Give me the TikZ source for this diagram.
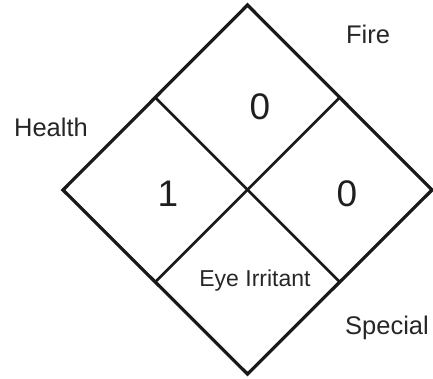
\documentclass[tikz,border=0pt]{standalone}
\usepackage{fontspec}
\setmainfont{Liberation Sans}
\usetikzlibrary{calc}
\begin{document}
\begin{tikzpicture}[x=1pt,y=-1pt,
  edge/.style={line width=3.2pt,line join=miter,color=black!90},
  inner/.style={line width=2.8pt,color=black!90},
  digit/.style={font=\fontsize{37}{40}\selectfont,text=black!88,inner sep=0pt},
  lbl/.style={font=\fontsize{25.5}{28}\selectfont,text=black!85,inner sep=0pt,anchor=base},
  small/.style={font=\fontsize{23}{26}\selectfont,text=black!85,inner sep=0pt}]
\useasboundingbox (0,0) rectangle (433,379);
\coordinate (T) at (247.5,5);
\coordinate (L) at (63,190);
\coordinate (R) at (432,190);
\coordinate (B) at (247.5,374);
\coordinate (TL) at ($(T)!0.5!(L)$);
\coordinate (TR) at ($(T)!0.5!(R)$);
\coordinate (BL) at ($(B)!0.5!(L)$);
\coordinate (BR) at ($(B)!0.5!(R)$);
\draw[edge] (T) -- (R) -- (B) -- (L) -- cycle;
\draw[inner] (TL) -- (BR);
\draw[inner] (TR) -- (BL);
\node[digit] (fire) at (260,107) {0};
\node[digit] (health) at (168,194) {1};
\node[digit] (react) at (347,194) {0};
\node[small] (spec) at (255,281) {Eye Irritant};
\node[lbl] (lfire) at (368,44) {Fire};
\node[lbl] (lhealth) at (51,137) {Health};
\node[lbl] (lspec) at (387,334) {Special};
\end{tikzpicture}
\end{document}
